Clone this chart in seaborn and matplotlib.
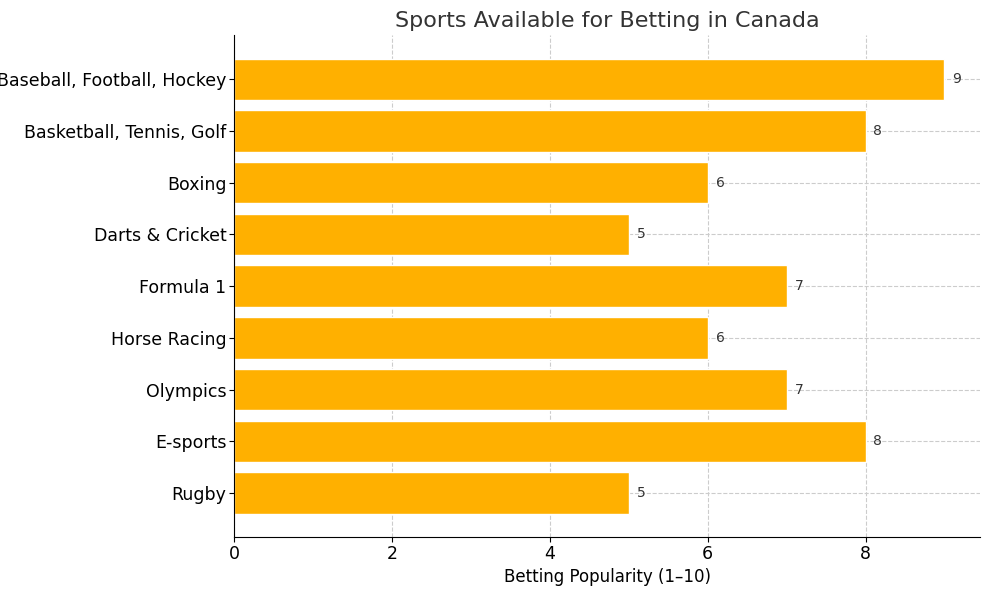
import matplotlib.pyplot as plt
import seaborn as sns
import pandas as pd

sports = ["Baseball, Football, Hockey", "Basketball, Tennis, Golf", "Boxing",
          "Darts & Cricket", "Formula 1", "Horse Racing", "Olympics", "E-sports", "Rugby"]
popularity = [9, 8, 6, 5, 7, 6, 7, 8, 5]

df = pd.DataFrame({"Sport": sports, "Popularity": popularity})

sns.set_style("white")
fig = plt.figure(figsize=(9.9, 5.9), dpi=100)
ax = fig.add_axes([0.2364, 0.09, 0.7535, 0.85])

sns.barplot(data=df, x="Popularity", y="Sport", color="#FFB000", saturation=1,
            width=0.8, ax=ax, zorder=2)

for i, v in enumerate(popularity):
    ax.text(v + 0.1, i, str(v), va="center", ha="left", fontsize=10, color="#333333")

ax.set_xlim(0, 9.45)
ax.set_ylim(8.85, -0.85)
ax.set_xticks([0, 2, 4, 6, 8])
ax.grid(True, linestyle="--", color="#cccccc", linewidth=0.8, zorder=0)
ax.set_axisbelow(True)
for s in ["top", "right"]:
    ax.spines[s].set_visible(False)
ax.spines["left"].set_color("black")
ax.spines["bottom"].set_color("black")
ax.tick_params(axis="both", labelsize=12.5, length=3.5, pad=2, color="black",
               labelcolor="black", left=True, bottom=True)
ax.set_ylabel("")
ax.set_xlabel("Betting Popularity (1–10)", fontsize=12, color="black")
ax.set_title("Sports Available for Betting in Canada", fontsize=16, color="#333333")

fig.savefig("out.png", dpi=100)
